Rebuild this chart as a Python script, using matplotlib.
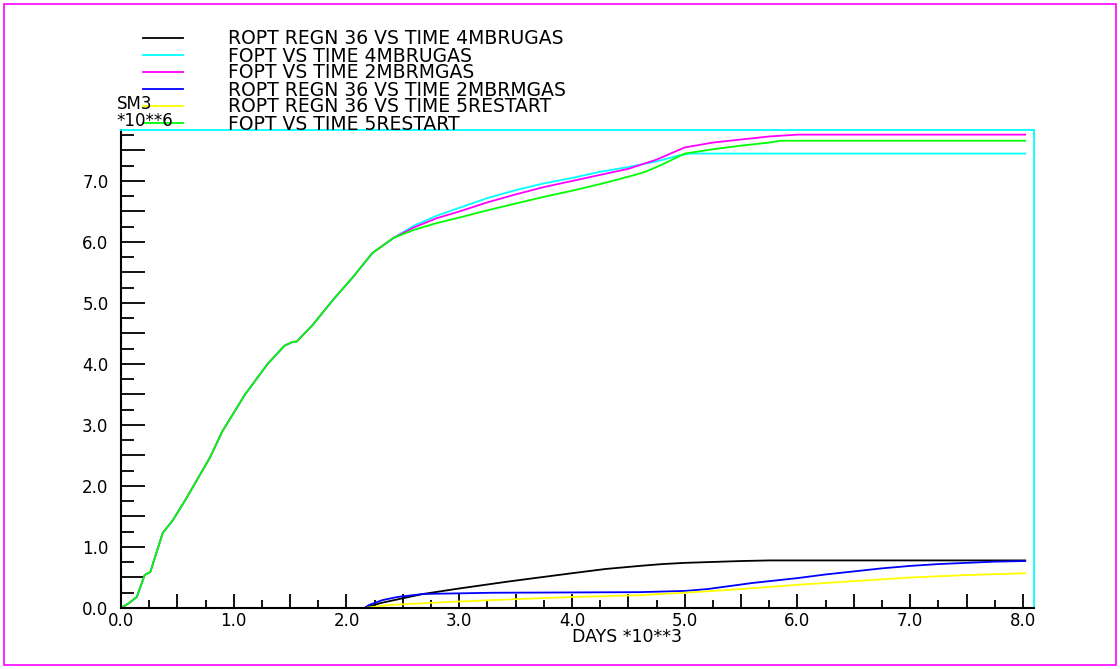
import numpy as np
import matplotlib
matplotlib.use("Agg")
import matplotlib.pyplot as plt
from matplotlib.lines import Line2D
from matplotlib.patches import Rectangle
from matplotlib.ticker import MultipleLocator, FuncFormatter

# Data (days * 10**3, SM3 * 10**6)
# FOPT curves share the same early part
fopt_early_days = [0, 0.07, 0.14, 0.21, 0.26, 0.37, 0.46, 0.58, 0.79, 0.9, 1.1, 1.3, 1.45, 1.52, 1.56,
                   1.7, 1.88, 2.06, 2.23, 2.42]
fopt_early_vals = [0, 0.08, 0.18, 0.54, 0.59, 1.23, 1.44, 1.8, 2.47, 2.9, 3.5, 4.0, 4.3, 4.36, 4.37,
                   4.64, 5.05, 5.43, 5.82, 6.07]

cyan_days = [2.6, 2.8, 3.0, 3.25, 3.5, 3.75, 4.0, 4.25, 4.5, 4.75, 4.95, 5.05, 8.02]
cyan_vals = [6.27, 6.43, 6.56, 6.72, 6.85, 6.96, 7.05, 7.15, 7.23, 7.32, 7.42, 7.45, 7.45]

magenta_days = [2.6, 2.8, 3.0, 3.25, 3.5, 3.75, 4.0, 4.25, 4.5, 4.75, 5.0, 5.25, 5.5, 5.75, 6.0, 8.02]
magenta_vals = [6.24, 6.39, 6.5, 6.65, 6.78, 6.9, 7.0, 7.1, 7.2, 7.35, 7.55, 7.63, 7.68, 7.73, 7.76, 7.76]

green_days = [2.6, 2.8, 3.0, 3.25, 3.5, 3.75, 4.0, 4.25, 4.5, 4.65, 4.8, 5.0, 5.25, 5.5, 5.75, 5.85, 8.02]
green_vals = [6.2, 6.31, 6.4, 6.52, 6.63, 6.74, 6.84, 6.95, 7.07, 7.15, 7.27, 7.45, 7.52, 7.58, 7.63, 7.66, 7.66]

black_days = [0, 2.16, 2.3, 2.5, 2.68, 3.0, 3.42, 3.75, 4.0, 4.3, 4.6, 4.8, 5.0, 5.25, 5.5, 5.75, 6.0, 8.02]
black_vals = [0, 0, 0.08, 0.16, 0.23, 0.32, 0.43, 0.51, 0.57, 0.64, 0.69, 0.72, 0.74, 0.755, 0.77, 0.78, 0.78, 0.78]

blue_days = [0, 2.16, 2.2, 2.32, 2.45, 2.68, 3.3, 4.0, 4.6, 5.0, 5.2, 5.4, 5.6, 5.8, 6.0, 6.25, 6.5,
             6.75, 7.0, 7.25, 7.5, 7.75, 8.02]
blue_vals = [0, 0, 0.05, 0.13, 0.18, 0.23, 0.25, 0.255, 0.26, 0.28, 0.31, 0.36, 0.41, 0.45, 0.49, 0.55,
             0.6, 0.65, 0.69, 0.72, 0.74, 0.76, 0.77]

yellow_days = [0, 2.16, 2.38, 2.92, 3.57, 4.0, 4.6, 5.0, 5.5, 6.0, 6.5, 7.0, 7.5, 8.02]
yellow_vals = [0, 0, 0.05, 0.1, 0.15, 0.18, 0.21, 0.25, 0.31, 0.38, 0.44, 0.5, 0.54, 0.57]

labels = ["ROPT REGN 36 VS TIME 4MBRUGAS", "FOPT VS TIME 4MBRUGAS", "FOPT VS TIME 2MBRMGAS",
          "ROPT REGN 36 VS TIME 2MBRMGAS", "ROPT REGN 36 VS TIME 5RESTART", "FOPT VS TIME 5RESTART"]
colors = ["#000000", "#00ffff", "#ff00ff", "#0000ff", "#ffff00", "#00ff00"]

series = [
    (black_days, black_vals),
    (fopt_early_days + cyan_days, fopt_early_vals + cyan_vals),
    (fopt_early_days + magenta_days, fopt_early_vals + magenta_vals),
    (blue_days, blue_vals),
    (yellow_days, yellow_vals),
    (fopt_early_days + green_days, fopt_early_vals + green_vals),
]

W, H = 1120, 669
fig = plt.figure(figsize=(W / 100, H / 100), dpi=100)
fig.patch.set_facecolor("white")

# axes box in pixel terms
left, right, top, bottom = 121, 1034, 130, 608
ax = fig.add_axes([left / W, 1 - bottom / H, (right - left) / W, (bottom - top) / H])

for (d, v), c in zip(series, colors):
    ax.plot(d, v, color=c, lw=1.3)

ax.set_xlim(0, 8.098)
ax.set_ylim(0, 7.836)

for s in ["left", "bottom"]:
    ax.spines[s].set_color("black")
    ax.spines[s].set_linewidth(1.5)
for s in ["top", "right"]:
    ax.spines[s].set_color("#00ffff")
    ax.spines[s].set_linewidth(1.3)

# long ticks every 0.5, short every 0.25, labels only on whole numbers
whole_only = FuncFormatter(lambda v, p: f"{v:.1f}" if abs(v - round(v)) < 1e-6 else "")
ax.xaxis.set_major_locator(MultipleLocator(0.5))
ax.xaxis.set_minor_locator(MultipleLocator(0.25))
ax.xaxis.set_major_formatter(whole_only)
ax.yaxis.set_major_locator(MultipleLocator(0.5))
ax.yaxis.set_minor_locator(MultipleLocator(0.25))
ax.yaxis.set_major_formatter(whole_only)

ax.tick_params(axis="x", which="major", direction="in", length=10, width=1.3, pad=3, labelsize=12)
ax.tick_params(axis="x", which="minor", direction="in", length=6, width=1.3)
ax.tick_params(axis="y", which="major", direction="in", length=17, width=1.3, pad=9, labelsize=12)
ax.tick_params(axis="y", which="minor", direction="in", length=9, width=1.3)
ax.tick_params(top=False, right=False, which="both")

fig.text(572 / W, 1 - 637 / H, "DAYS *10**3", ha="left", va="center", fontsize=12.5)
fig.text(117 / W, 1 - 104 / H, "SM3", ha="left", va="center", fontsize=12)
fig.text(116 / W, 1 - 121 / H, "*10**6", ha="left", va="center", fontsize=12)

# hand-placed legend like the original plot
row_y = [38, 55, 72, 89, 106, 123]
for lab, c, yy in zip(labels, colors, row_y):
    fig.add_artist(Line2D([143 / W, 183 / W], [1 - yy / H, 1 - yy / H], color=c, lw=1.3))
    fig.text(228 / W, 1 - (yy + 1) / H, lab, ha="left", va="center", fontsize=13.5)

# magenta page border
fig.add_artist(Rectangle((4 / W, 4 / H), (W - 8) / W, (H - 8) / H, transform=fig.transFigure,
                         fill=False, edgecolor="#ff00ff", lw=1.2))

fig.savefig("out.png", dpi=100)
